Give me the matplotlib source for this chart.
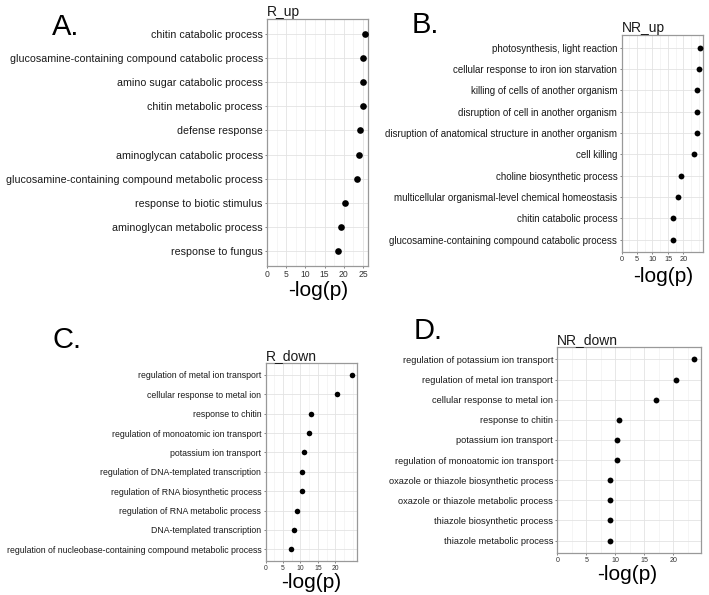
import matplotlib
matplotlib.use("Agg")
import matplotlib.pyplot as plt
from matplotlib.ticker import MultipleLocator

plt.rcParams['font.family'] = ['Liberation Sans', 'DejaVu Sans']

# ---------------- data ----------------
a_terms = ["chitin catabolic process",
           "glucosamine-containing compound catabolic process",
           "amino sugar catabolic process",
           "chitin metabolic process",
           "defense response",
           "aminoglycan catabolic process",
           "glucosamine-containing compound metabolic process",
           "response to biotic stimulus",
           "aminoglycan metabolic process",
           "response to fungus"]
a_vals = [25.4, 25.1, 25.1, 25.0, 24.2, 23.9, 23.5, 20.4, 19.3, 18.4]

b_terms = ["photosynthesis, light reaction",
           "cellular response to iron ion starvation",
           "killing of cells of another organism",
           "disruption of cell in another organism",
           "disruption of anatomical structure in another organism",
           "cell killing",
           "choline biosynthetic process",
           "multicellular organismal-level chemical homeostasis",
           "chitin catabolic process",
           "glucosamine-containing compound catabolic process"]
b_vals = [25.4, 24.9, 24.3, 24.3, 24.2, 23.5, 19.3, 18.2, 16.5, 16.5]

c_terms = ["regulation of metal ion transport",
           "cellular response to metal ion",
           "response to chitin",
           "regulation of monoatomic ion transport",
           "potassium ion transport",
           "regulation of DNA-templated transcription",
           "regulation of RNA biosynthetic process",
           "regulation of RNA metabolic process",
           "DNA-templated transcription",
           "regulation of nucleobase-containing compound metabolic process"]
c_vals = [24.8, 20.6, 13.0, 12.4, 11.1, 10.5, 10.5, 8.9, 8.1, 7.4]

d_terms = ["regulation of potassium ion transport",
           "regulation of metal ion transport",
           "cellular response to metal ion",
           "response to chitin",
           "potassium ion transport",
           "regulation of monoatomic ion transport",
           "oxazole or thiazole biosynthetic process",
           "oxazole or thiazole metabolic process",
           "thiazole biosynthetic process",
           "thiazole metabolic process"]
d_vals = [23.6, 20.4, 17.0, 10.65, 10.3, 10.2, 9.0, 9.0, 9.0, 9.0]

titles = ["R_up", "NR_up", "R_down", "NR_down"]
letters = ["A.", "B.", "C.", "D."]
xlabel = "-log(p)"

W, H = 709, 595
fig = plt.figure(figsize=(W / 100, H / 100), dpi=100)

def px_axes(l, r, t, b):
    return fig.add_axes([l / W, 1 - b / H, (r - l) / W, (b - t) / H])

panels = [
    dict(box=(267, 368, 19, 266), terms=a_terms, vals=a_vals, xmax=26.3,
         ticks=[0, 5, 10, 15, 20, 25], yfs=7.7, xfs=6.2, ms=4.8,
         letter_xy=(52, 27), label_xy=(318, 290)),
    dict(box=(621.5, 702.7, 35, 252.3), terms=b_terms, vals=b_vals, xmax=26.2,
         ticks=[0, 5, 10, 15, 20], yfs=7.0, xfs=5.3, ms=4.2,
         letter_xy=(412, 25), label_xy=(663, 277)),
    dict(box=(265.5, 357, 363.3, 561), terms=c_terms, vals=c_vals, xmax=26.2,
         ticks=[0, 5, 10, 15, 20], yfs=6.3, xfs=4.9, ms=4.0,
         letter_xy=(52, 340), label_xy=(311, 582)),
    dict(box=(557.3, 701.3, 347.3, 552.7), terms=d_terms, vals=d_vals, xmax=24.8,
         ticks=[0, 5, 10, 15, 20], yfs=6.7, xfs=5.1, ms=4.2,
         letter_xy=(414, 331), label_xy=(627, 575)),
]

for p, title, letter in zip(panels, titles, letters):
    l, r, t, b = p["box"]
    ax = px_axes(l, r, t, b)
    n = len(p["terms"])
    ypos = list(range(n))[::-1]
    ax.set_axisbelow(True)
    ax.scatter(p["vals"], ypos, s=p["ms"] ** 2, color="black", zorder=3,
               linewidths=0)
    ax.set_xlim(0, p["xmax"])
    ax.set_ylim(-0.6, n - 1 + 0.6)
    ax.set_yticks(ypos)
    ax.set_yticklabels(p["terms"], fontsize=p["yfs"], color="#1a1a1a")
    ax.set_xticks(p["ticks"])
    ax.set_xticklabels([str(v) for v in p["ticks"]], fontsize=p["xfs"],
                       color="#333333")
    ax.xaxis.set_minor_locator(MultipleLocator(2.5))
    ax.grid(True, which="major", color="#e3e3e3", linewidth=0.6)
    ax.grid(True, which="minor", axis="x", color="#eeeeee", linewidth=0.4)
    ax.tick_params(axis="both", which="major", length=1.5, width=0.5,
                   color="#555555", pad=1.5)
    ax.tick_params(axis="both", which="minor", length=0)
    for s in ax.spines.values():
        s.set_color("#999999")
        s.set_linewidth(0.9)
    ax.set_title(title, loc="left", fontsize=10, pad=2, color="#1a1a1a")
    fig.text(p["letter_xy"][0] / W, 1 - p["letter_xy"][1] / H, letter,
             fontsize=21, ha="left", va="center", color="black")
    fig.text(p["label_xy"][0] / W, 1 - p["label_xy"][1] / H, xlabel,
             fontsize=15, ha="center", va="center", color="black")

fig.savefig("out.png", dpi=100, facecolor="white")
